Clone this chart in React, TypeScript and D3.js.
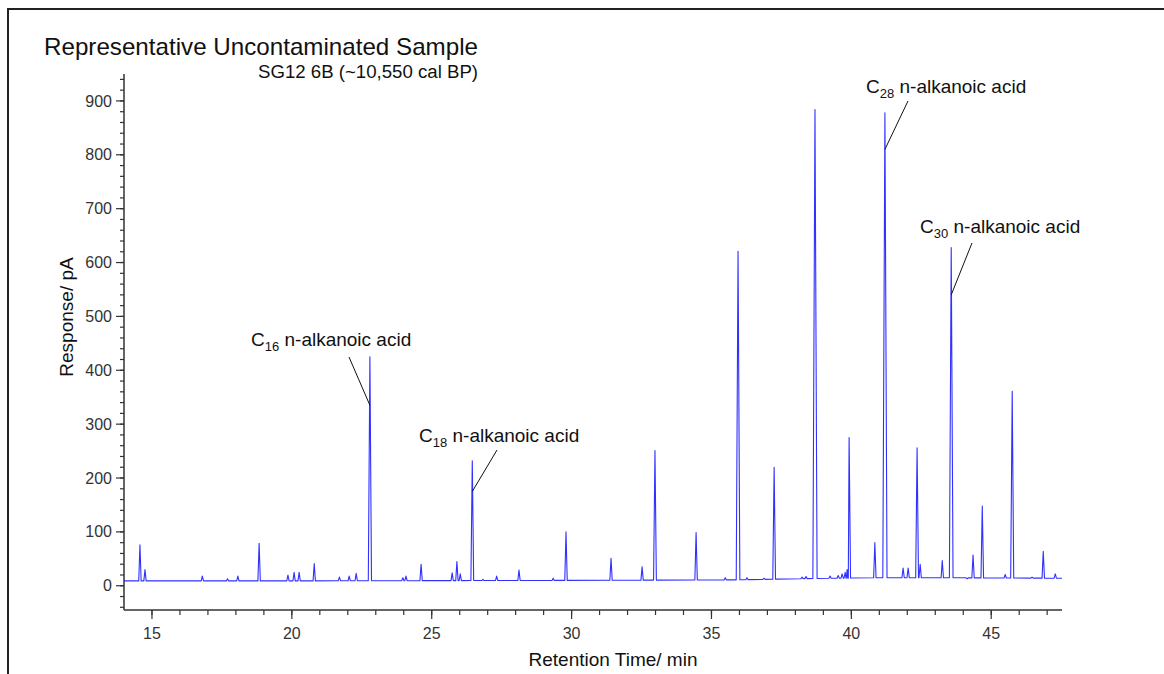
import React from "react";
import * as d3 from "d3";

// ---- Data ----
const peakTimes = [14.57, 14.75, 16.8, 17.7, 18.07, 18.83, 19.86, 20.08, 20.26, 20.8, 21.7, 22.05, 22.3, 22.79, 23.97, 24.08, 24.62, 25.73, 25.9, 26.02, 26.45, 26.83, 27.32, 28.12, 29.34, 29.8, 31.41, 32.52, 32.98, 34.45, 35.49, 35.95, 36.27, 36.88, 37.24, 38.24, 38.38, 38.7, 39.24, 39.53, 39.67, 39.78, 39.85, 39.92, 40.84, 41.2, 41.85, 42.03, 42.35, 42.46, 43.25, 43.57, 44.14, 44.35, 44.68, 45.5, 45.75, 46.46, 46.86, 47.29];
const peakHeights = [76, 30, 18, 13, 18, 79, 20, 25, 25, 41, 16, 18, 23, 425, 15, 18, 40, 24, 45, 22, 232, 12, 18, 29, 14, 100, 51, 35, 251, 99, 15, 621, 15, 14, 220, 16, 17, 884, 18, 19, 22, 25, 30, 275, 80, 878, 33, 33, 256, 40, 47, 628, 13, 57, 148, 21, 361, 16, 64, 22];

const baseTimes = [14, 20, 30, 36, 38, 41, 43, 47.53];
const baseValues = [9, 9, 10, 11, 13, 15, 15, 14];

const labelNames = ["16", "18", "28", "30"];
const labelPeakTimes = [22.79, 26.45, 41.2, 43.57];
const labelPeakValues = [335, 175, 810, 540];

const xMajorTicks = [15, 20, 25, 30, 35, 40, 45];
const yMajorTicks = [0, 100, 200, 300, 400, 500, 600, 700, 800, 900];

const FONT = "'Liberation Sans', Arial, Helvetica, sans-serif";

export default function App() {
  const x = d3.scaleLinear().domain([14, 47.53]).range([124, 1062]);
  const y = d3.scaleLinear().domain([-45, 950]).range([610, 74]);
  const base = d3.scaleLinear().domain(baseTimes).range(baseValues);

  // build trace points from the peak list
  const pts: [number, number][] = [[14, base(14)], [47.53, base(47.53)]];
  peakTimes.forEach((t, i) => {
    const h = peakHeights[i];
    const w = 0.04 + 0.00004 * h;
    pts.push([t - w, base(t - w)]);
    pts.push([t, h]);
    pts.push([t + w, base(t + w)]);
  });
  pts.sort((a, b) => a[0] - b[0]);
  const line = d3.line<[number, number]>().x(d => x(d[0])).y(d => y(d[1]));

  const xMinor = d3.range(15, 48, 1);
  const yMinor = d3.range(-40, 950, 20);

  // annotation label placement (text anchor positions + leader start)
  const labelTextX = [251, 419, 866, 920];
  const labelTextY = [346, 442, 93, 233];
  const leadStart: [number, number][] = [[349, 357], [497, 450], [908, 101], [972, 243]];

  return (
    <svg width={1164} height={674} style={{ position: "absolute", left: 0, top: 0, background: "#fff" }} fontFamily={FONT}>
      {/* frame */}
      <line x1={8} y1={9} x2={1164} y2={9} stroke="#222" strokeWidth={2} />
      <line x1={8} y1={8} x2={8} y2={674} stroke="#222" strokeWidth={2} />

      {/* titles */}
      <text x={44} y={55} fontSize={24} fill="#111" textLength={434} lengthAdjust="spacingAndGlyphs">Representative Uncontaminated Sample</text>
      <text x={258} y={78} fontSize={18} fill="#111" textLength={220} lengthAdjust="spacingAndGlyphs">SG12 6B (~10,550 cal BP)</text>

      {/* y axis */}
      <line x1={124} y1={y(950)} x2={124} y2={y(-45)} stroke="#333" strokeWidth={1.5} />
      {yMinor.map(v => (
        <line key={"ym" + v} x1={120} x2={124} y1={y(v)} y2={y(v)} stroke="#333" strokeWidth={1.2} />
      ))}
      {yMajorTicks.map(v => (
        <g key={"y" + v}>
          <line x1={116} x2={124} y1={y(v)} y2={y(v)} stroke="#333" strokeWidth={1.2} />
          <text x={112} y={y(v)} dy="0.35em" textAnchor="end" fontSize={16} fill="#333">{v}</text>
        </g>
      ))}

      {/* x axis */}
      <line x1={124} y1={610} x2={1062} y2={610} stroke="#333" strokeWidth={1.5} />
      {xMinor.map(v => (
        <line key={"xm" + v} x1={x(v)} x2={x(v)} y1={610} y2={615} stroke="#333" strokeWidth={1.2} />
      ))}
      {xMajorTicks.map(v => (
        <g key={"x" + v}>
          <line x1={x(v)} x2={x(v)} y1={610} y2={619} stroke="#333" strokeWidth={1.2} />
          <text x={x(v)} y={639} textAnchor="middle" fontSize={16} fill="#333">{v}</text>
        </g>
      ))}

      {/* axis titles */}
      <text x={613} y={666} textAnchor="middle" fontSize={19} fill="#111">Retention Time/ min</text>
      <text transform="translate(73,317) rotate(-90)" textAnchor="middle" fontSize={19} fill="#111">Response/ pA</text>

      {/* trace */}
      <path d={line(pts) || ""} fill="none" stroke="#3030ff" strokeWidth={1.1} strokeLinejoin="round" />

      {/* annotations */}
      {labelNames.map((n, i) => (
        <g key={"lab" + n}>
          <line x1={leadStart[i][0]} y1={leadStart[i][1]} x2={x(labelPeakTimes[i])} y2={y(labelPeakValues[i])} stroke="#111" strokeWidth={1} />
          <text x={labelTextX[i]} y={labelTextY[i]} fontSize={19} fill="#111">
            C<tspan fontSize={13} dy={5}>{n}</tspan><tspan dy={-5}> n-alkanoic acid</tspan>
          </text>
        </g>
      ))}
    </svg>
  );
}
